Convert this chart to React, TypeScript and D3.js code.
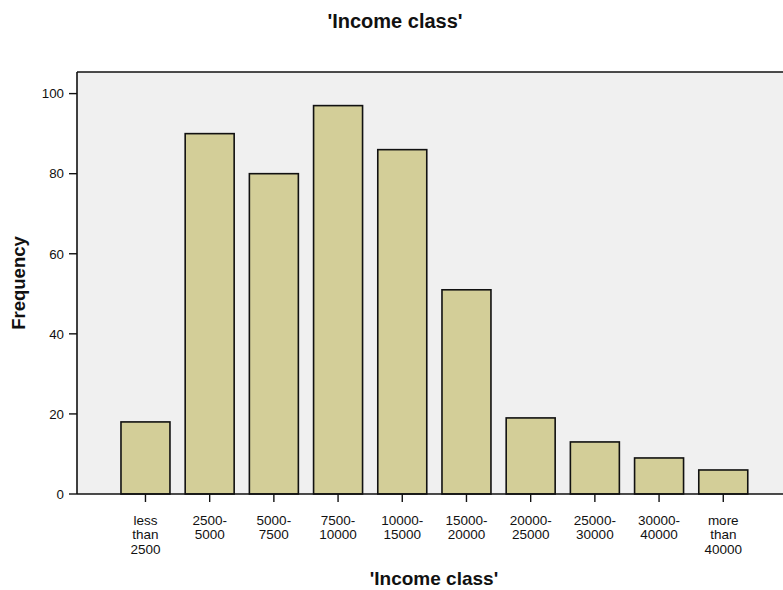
import React from "react";
import * as d3 from "d3";

const categories: string[][] = [
  ["less", "than", "2500"],
  ["2500-", "5000"],
  ["5000-", "7500"],
  ["7500-", "10000"],
  ["10000-", "15000"],
  ["15000-", "20000"],
  ["20000-", "25000"],
  ["25000-", "30000"],
  ["30000-", "40000"],
  ["more", "than", "40000"],
];
const frequencies: number[] = [18, 90, 80, 97, 86, 51, 19, 13, 9, 6];
const yTicks: number[] = [0, 20, 40, 60, 80, 100];
const chartTitle = "'Income class'";
const xTitle = "'Income class'";
const yTitle = "Frequency";

const W = 783;
const H = 590;
const plotLeft = 77;
const plotTop = 72;
const plotBottom = 494;
const plotRight = 783;
const font = "'Liberation Sans', Arial, Helvetica, sans-serif";

export default function App() {
  const keys = categories.map((c) => c.join(" "));
  const step = 64.2;
  const pIn = 0.237;
  const pOut = 0.685;
  const x = d3
    .scaleBand<string>()
    .domain(keys)
    .range([plotLeft, plotLeft + step * (keys.length - pIn + 2 * pOut)])
    .paddingInner(pIn)
    .paddingOuter(pOut)
    .align(0.5);
  const y = d3.scaleLinear().domain([0, 100]).range([plotBottom, 93.6]);

  return (
    <svg
      width={W}
      height={H}
      style={{ position: "absolute", left: 0, top: 0, display: "block" }}
      fontFamily={font}
    >
      <rect x={0} y={0} width={W} height={H} fill="#ffffff" />
      <text x={395} y={27.5} textAnchor="middle" fontSize={20} fontWeight="bold" fill="#111">
        {chartTitle}
      </text>
      <rect
        x={plotLeft}
        y={plotTop}
        width={plotRight - plotLeft}
        height={plotBottom - plotTop}
        fill="#f0f0f0"
      />
      {frequencies.map((v, i) => (
        <rect
          key={keys[i]}
          x={x(keys[i])!}
          y={y(v)}
          width={x.bandwidth()}
          height={plotBottom - y(v)}
          fill="#d3ce98"
          stroke="#111"
          strokeWidth={1.6}
        />
      ))}
      <line x1={plotLeft} x2={plotRight} y1={plotTop} y2={plotTop} stroke="#111" strokeWidth={1.6} />
      <line x1={plotLeft} x2={plotLeft} y1={plotTop} y2={plotBottom} stroke="#111" strokeWidth={1.6} />
      <line x1={plotLeft} x2={plotRight} y1={plotBottom} y2={plotBottom} stroke="#111" strokeWidth={1.6} />
      {yTicks.map((t) => (
        <g key={t}>
          <line x1={plotLeft - 8} x2={plotLeft} y1={y(t)} y2={y(t)} stroke="#111" strokeWidth={1.4} />
          <text x={64} y={y(t)} dy="0.36em" textAnchor="end" fontSize={13.3} fill="#111">
            {t}
          </text>
        </g>
      ))}
      {keys.map((k, i) => {
        const cx = x(k)! + x.bandwidth() / 2;
        return (
          <g key={k}>
            <line x1={cx} x2={cx} y1={plotBottom} y2={plotBottom + 8} stroke="#111" strokeWidth={1.4} />
            <text textAnchor="middle" fontSize={13.5} fill="#111">
              {categories[i].map((ln, j) => (
                <tspan key={j} x={cx} y={525 + j * 14.3}>
                  {ln}
                </tspan>
              ))}
            </text>
          </g>
        );
      })}
      <text x={434} y={585} textAnchor="middle" fontSize={19} fontWeight="bold" fill="#111">
        {xTitle}
      </text>
      <text
        transform={`translate(25, ${(plotTop + plotBottom) / 2}) rotate(-90)`}
        textAnchor="middle"
        fontSize={18.5}
        fontWeight="bold"
        fill="#111"
      >
        {yTitle}
      </text>
    </svg>
  );
}
